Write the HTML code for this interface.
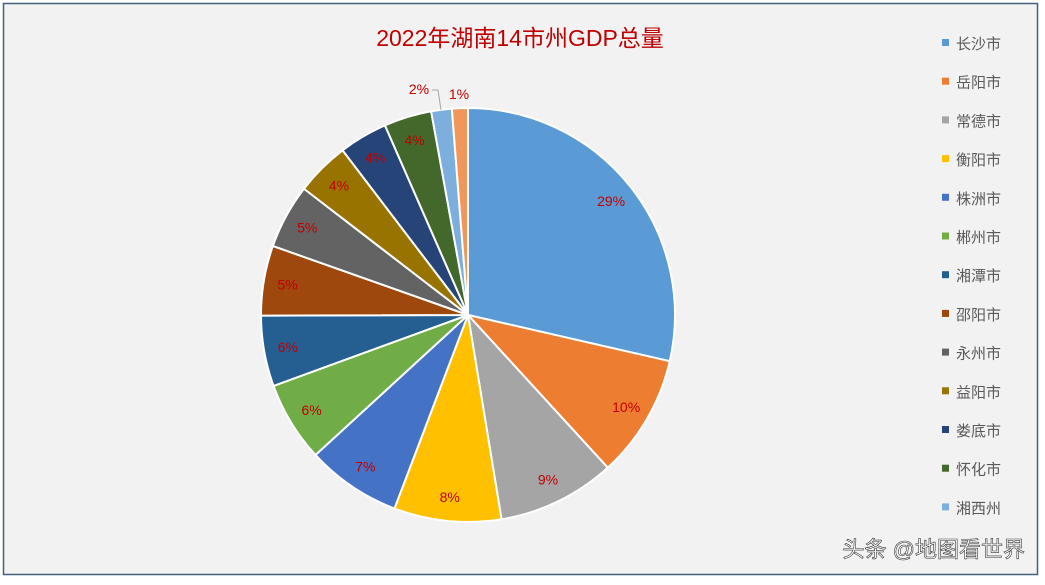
<!DOCTYPE html><html><head><meta charset="utf-8"><style>
body{margin:0;background:#fff;width:1045px;height:580px;overflow:hidden}
</style></head><body>
<svg id="s" width="1045" height="580" xmlns="http://www.w3.org/2000/svg" font-family="Liberation Sans, Noto Sans CJK SC, sans-serif">
<rect x="3.5" y="3.5" width="1034" height="571" fill="#f2f2f2" stroke="#44607f" stroke-width="1.5"/>
<text x="520" y="46" text-anchor="middle" font-size="23" fill="#c00000">2022年湖南14市州GDP总量</text>
<g id="pie"></g><g id="leg"></g>
<text x="1025" y="557" text-anchor="end" font-size="22" fill="#fff" stroke="#333" stroke-width="0.6">头条 @地图看世界</text>
</svg>
<script>
var v=[13966.1,4700,4500,4089.7,3616.8,3054.7,2696.5,2667.6,2457.4,2053.5,1850.6,1817.8,785.1,607.1];
var n=["长沙市","岳阳市","常德市","衡阳市","株洲市","郴州市","湘潭市","邵阳市","永州市","益阳市","娄底市","怀化市","湘西州"];
var c=["#5B9BD5","#ED7D31","#A5A5A5","#FFC000","#4472C4","#70AD47","#255E91","#9E480E","#636363","#997300","#264478","#43682B","#7CAFDD","#F1975A"];
var lab=["29%","10%","9%","8%","7%","6%","6%","5%","5%","4%","4%","4%","2%","1%"];
var t=v.reduce((a,b)=>a+b),cx=468,cy=315,R=207,a=0,h="";
function p(r,an){return [cx+r*Math.sin(an),cy-r*Math.cos(an)]}
v.forEach((x,i)=>{var b=a+x/t*2*Math.PI,s=p(R,a),e=p(R,b);
h+=`<path d="M${cx},${cy}L${s}A${R},${R} 0 ${b-a>Math.PI?1:0} 1 ${e}Z" fill="${c[i]}" stroke="#fff" stroke-width="2"/>`;
var m=(a+b)/2,q=p(183,m);
if(i<12)h+=`<text x="${q[0]}" y="${q[1]+5}" text-anchor="middle" font-size="14" fill="#c00000">${lab[i]}</text>`;
a=b});
h+=`<text x="419" y="94" text-anchor="middle" font-size="14" fill="#c00000">2%</text><polyline points="432,90 438,90 441,110" fill="none" stroke="#a5a5a5"/>`;
h+=`<text x="459" y="99" text-anchor="middle" font-size="14" fill="#c00000">1%</text>`;
document.getElementById("pie").innerHTML=h;
var g="";n.forEach((x,i)=>{var y=43+i*38.7;g+=`<rect x="942" y="${y-4}" width="7" height="7" fill="${c[i]}"/><text x="956" y="${y+6}" font-size="15" fill="#595959">${x}</text>`});
document.getElementById("leg").innerHTML=g;
</script>
</body></html>
